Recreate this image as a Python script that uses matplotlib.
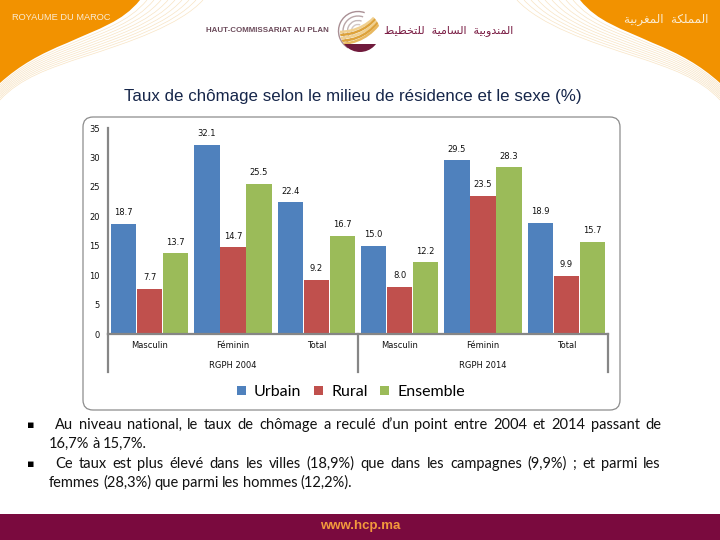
import matplotlib
matplotlib.use("Agg")
import matplotlib.pyplot as plt
import numpy as np
from matplotlib.patches import PathPatch, FancyBboxPatch, Rectangle, Arc, Circle
from matplotlib.path import Path
from matplotlib.transforms import blended_transform_factory

W, H = 720, 540

# Data
sexes = ["Masculin", "Féminin", "Total", "Masculin", "Féminin", "Total"]
censuses = ["RGPH 2004", "RGPH 2014"]
urbain = [18.7, 32.1, 22.4, 15.0, 29.5, 18.9]
rural = [7.7, 14.7, 9.2, 8.0, 23.5, 9.9]
ensemble = [13.7, 25.5, 16.7, 12.2, 28.3, 15.7]
yticks = [0, 5, 10, 15, 20, 25, 30, 35]

title = "Taux de chômage selon le milieu de résidence et le sexe (%)"
bullets = [
    ["Au niveau national, le taux de chômage a reculé d’un point entre 2004 et 2014 passant de",
     "16,7% à 15,7%."],
    ["Ce taux est plus élevé dans les villes (18,9%) que dans les campagnes (9,9%) ; et parmi les",
     "femmes (28,3%) que parmi les hommes (12,2%)."],
]

BLUE, RED, GREEN = "#4F81BD", "#C0504D", "#9BBB59"
ORANGE = "#F29200"
AXIS = "#868686"

# Arabic glyphs (isolated, final, initial, medial), matplotlib does no shaping
FORMS = {
    "ا": (0xFE8D, 0xFE8E), "د": (0xFEA9, 0xFEAA), "ر": (0xFEAD, 0xFEAE),
    "و": (0xFEED, 0xFEEE), "ة": (0xFE93, 0xFE94),
    "ل": (0xFEDD, 0xFEDE, 0xFEDF, 0xFEE0), "م": (0xFEE1, 0xFEE2, 0xFEE3, 0xFEE4),
    "ن": (0xFEE5, 0xFEE6, 0xFEE7, 0xFEE8), "ب": (0xFE8F, 0xFE90, 0xFE91, 0xFE92),
    "ي": (0xFEF1, 0xFEF2, 0xFEF3, 0xFEF4), "س": (0xFEB1, 0xFEB2, 0xFEB3, 0xFEB4),
    "ت": (0xFE95, 0xFE96, 0xFE97, 0xFE98), "خ": (0xFEA5, 0xFEA6, 0xFEA7, 0xFEA8),
    "ط": (0xFEC1, 0xFEC2, 0xFEC3, 0xFEC4), "غ": (0xFECD, 0xFECE, 0xFECF, 0xFED0),
    "ك": (0xFED9, 0xFEDA, 0xFEDB, 0xFEDC),
}


def shape_word(word):
    out = []
    for i, c in enumerate(word):
        f = FORMS[c]
        prev = i > 0 and len(FORMS[word[i - 1]]) == 4
        nxt = i < len(word) - 1 and len(f) == 4
        if prev and nxt:
            g = f[3]
        elif prev:
            g = f[1]
        elif nxt:
            g = f[2]
        else:
            g = f[0]
        out.append(chr(g))
    return "".join(reversed(out))


def shape(text):
    return "  ".join(shape_word(w) for w in reversed(text.split()))


fig = plt.figure(figsize=(W / 100, H / 100), dpi=100, facecolor="white")

# Page layer in pixel coordinates
bg = fig.add_axes([0, 0, 1, 1])
bg.set_xlim(0, W)
bg.set_ylim(H, 0)
bg.axis("off")

# S-shaped header corner: inner edge of the orange, outer edge of the fan of lines
INNER = np.array([(140, 0), (122, 22), (100, 28), (67, 43), (40, 54), (20, 65), (0, 83)], float)
OUTER = np.array([(203, 0), (180, 25), (130, 42), (83, 57), (50, 68), (20, 78), (0, 100)], float)
CODES = [Path.MOVETO] + [Path.CURVE4] * 6


def mirrored(pts, flip):
    pts = pts.copy()
    if flip:
        pts[:, 0] = W - pts[:, 0]
    return pts


for flip in (False, True):
    for k in range(1, 10):
        pts = INNER + (OUTER - INNER) * k / 9
        bg.add_patch(PathPatch(Path(mirrored(pts, flip), CODES), fc="none", ec="#F8E4C4", lw=0.5))
    pts = mirrored(INNER, flip)
    corner_x = W if flip else 0
    verts = np.vstack([pts, [(corner_x, 0)], [pts[0]]])
    bg.add_patch(PathPatch(Path(verts, CODES + [Path.LINETO, Path.CLOSEPOLY]), fc=ORANGE, ec="none"))

bg.text(12, 18, "ROYAUME DU MAROC", color="#FAEBD2", fontsize=6.7, family="Liberation Sans", va="center")
bg.text(708, 19, shape("المملكة المغربية"), color="#FBEBD0", fontsize=8.6, family="DejaVu Sans", va="center", ha="right")
bg.text(206, 31, "HAUT-COMMISSARIAT AU PLAN", color="#6B4A5A", fontsize=5.7, family="Liberation Sans",
        weight="bold", va="center")
bg.text(513, 31, shape("المندوبية السامية للتخطيط"), color="#7B1E45", fontsize=8, family="DejaVu Sans",
        va="center", ha="right")

# Logo
clip = Circle((360, 32), 20, transform=bg.transData)
for r, col in [(19.5, "#A98F94"), (15, "#B9A6A8"), (10.5, "#C6B8B8"), (6.5, "#D2C8C6")]:
    bg.add_patch(Arc((358, 31), r * 2, r * 2, theta1=120, theta2=290, color=col, lw=1.0))
for d, col in zip((-9, -6, -3, 0, 3), ("#F0D090", "#DDA23A", "#F0D090", "#DDA23A", "#E8B860")):
    p = PathPatch(Path([(338, 41 + d), (366, 41 + d), (382, 17 + d)], [Path.MOVETO, Path.CURVE3, Path.CURVE3]),
                  fc="none", ec=col, lw=1.8)
    bg.add_patch(p)
    p.set_clip_path(clip)
crescent = Rectangle((338, 44), 44, 10, fc="#701A3C", ec="none")
bg.add_patch(crescent)
crescent.set_clip_path(clip)

bg.text(353, 97, title, color="#16264A", fontsize=12.2, family="Liberation Sans", ha="center", va="center")

# Frame around the chart
bg.add_patch(FancyBboxPatch((83, 117), 537, 293, boxstyle="round,pad=0,rounding_size=10",
                            fc="white", ec="#8C8C8C", lw=0.9))

# Bottom band
bg.add_patch(Rectangle((0, 514), W, 26, fc="#7A0A3E", ec="none"))
bg.text(360, 526, "www.hcp.ma", color="#F39A3C", fontsize=9.5, family="Liberation Sans", weight="bold",
        ha="center", va="center")

# Justified paragraph text
renderer = fig.canvas.get_renderer()


def justified(line, y, x0, x1=None):
    words = line.split()
    items = [bg.text(x0, y, w, fontsize=10.5, family="Lato", color="#111111", va="center") for w in words]
    widths = [t.get_window_extent(renderer).width for t in items]
    space = 3.2 if x1 is None else (x1 - x0 - sum(widths)) / (len(words) - 1)
    xpos = x0
    for t, w in zip(items, widths):
        t.set_x(xpos)
        xpos += w + space


ys = [425, 444, 464, 483]
row = 0
for par in bullets:
    bg.text(31, ys[row], "▪", fontsize=8, family="DejaVu Sans", color="black", ha="center", va="center")
    justified(par[0], ys[row], 55, 661)
    justified(par[1], ys[row + 1], 49)
    row += 2

# Chart
ax = fig.add_axes([108 / W, 1 - 334 / H, 500 / W, 206 / H])
ax.patch.set_alpha(0)
x = np.arange(len(sexes))
bw, off = 0.302, 0.312
b1 = ax.bar(x - off, urbain, bw, color=BLUE, label="Urbain")
b2 = ax.bar(x, rural, bw, color=RED, label="Rural")
b3 = ax.bar(x + off, ensemble, bw, color=GREEN, label="Ensemble")
ax.set_xlim(-0.5, 5.5)
ax.set_ylim(0, 35)

for bars in (b1, b2, b3):
    for rect in bars:
        ax.annotate(f"{rect.get_height():.1f}", (rect.get_x() + rect.get_width() / 2, rect.get_height()),
                    xytext=(0, 8), textcoords="offset points", ha="center", va="center",
                    fontsize=6, color="#111111")

ax.set_yticks(yticks)
ax.set_xticks(x)
ax.set_xticklabels(sexes)
ax.tick_params(axis="both", length=0, labelsize=6, labelcolor="#111111")
ax.tick_params(axis="y", pad=6)
ax.tick_params(axis="x", pad=5)
for s in ("top", "right"):
    ax.spines[s].set_visible(False)
for s in ("left", "bottom"):
    ax.spines[s].set_color(AXIS)
    ax.spines[s].set_linewidth(1.6)

# Multi-level category axis
tr = blended_transform_factory(ax.transData, ax.transAxes)
for sep in (-0.5, 2.5, 5.5):
    ax.plot([sep, sep], [0, -38 / 206], transform=tr, color=AXIS, lw=1.6, clip_on=False)
for cx, name in zip((1, 4), censuses):
    ax.text(cx, -32 / 206, name, transform=tr, fontsize=6, color="#111111", ha="center", va="center")

fig.legend(handles=[b1, b2, b3], loc="center", bbox_to_anchor=(351 / W, 1 - 392 / H), ncol=3, frameon=False,
           prop={"family": "Lato", "size": 11.5}, handlelength=0.55, handleheight=0.55, handletextpad=0.5,
           columnspacing=0.8)

fig.savefig("out.png", dpi=100)
